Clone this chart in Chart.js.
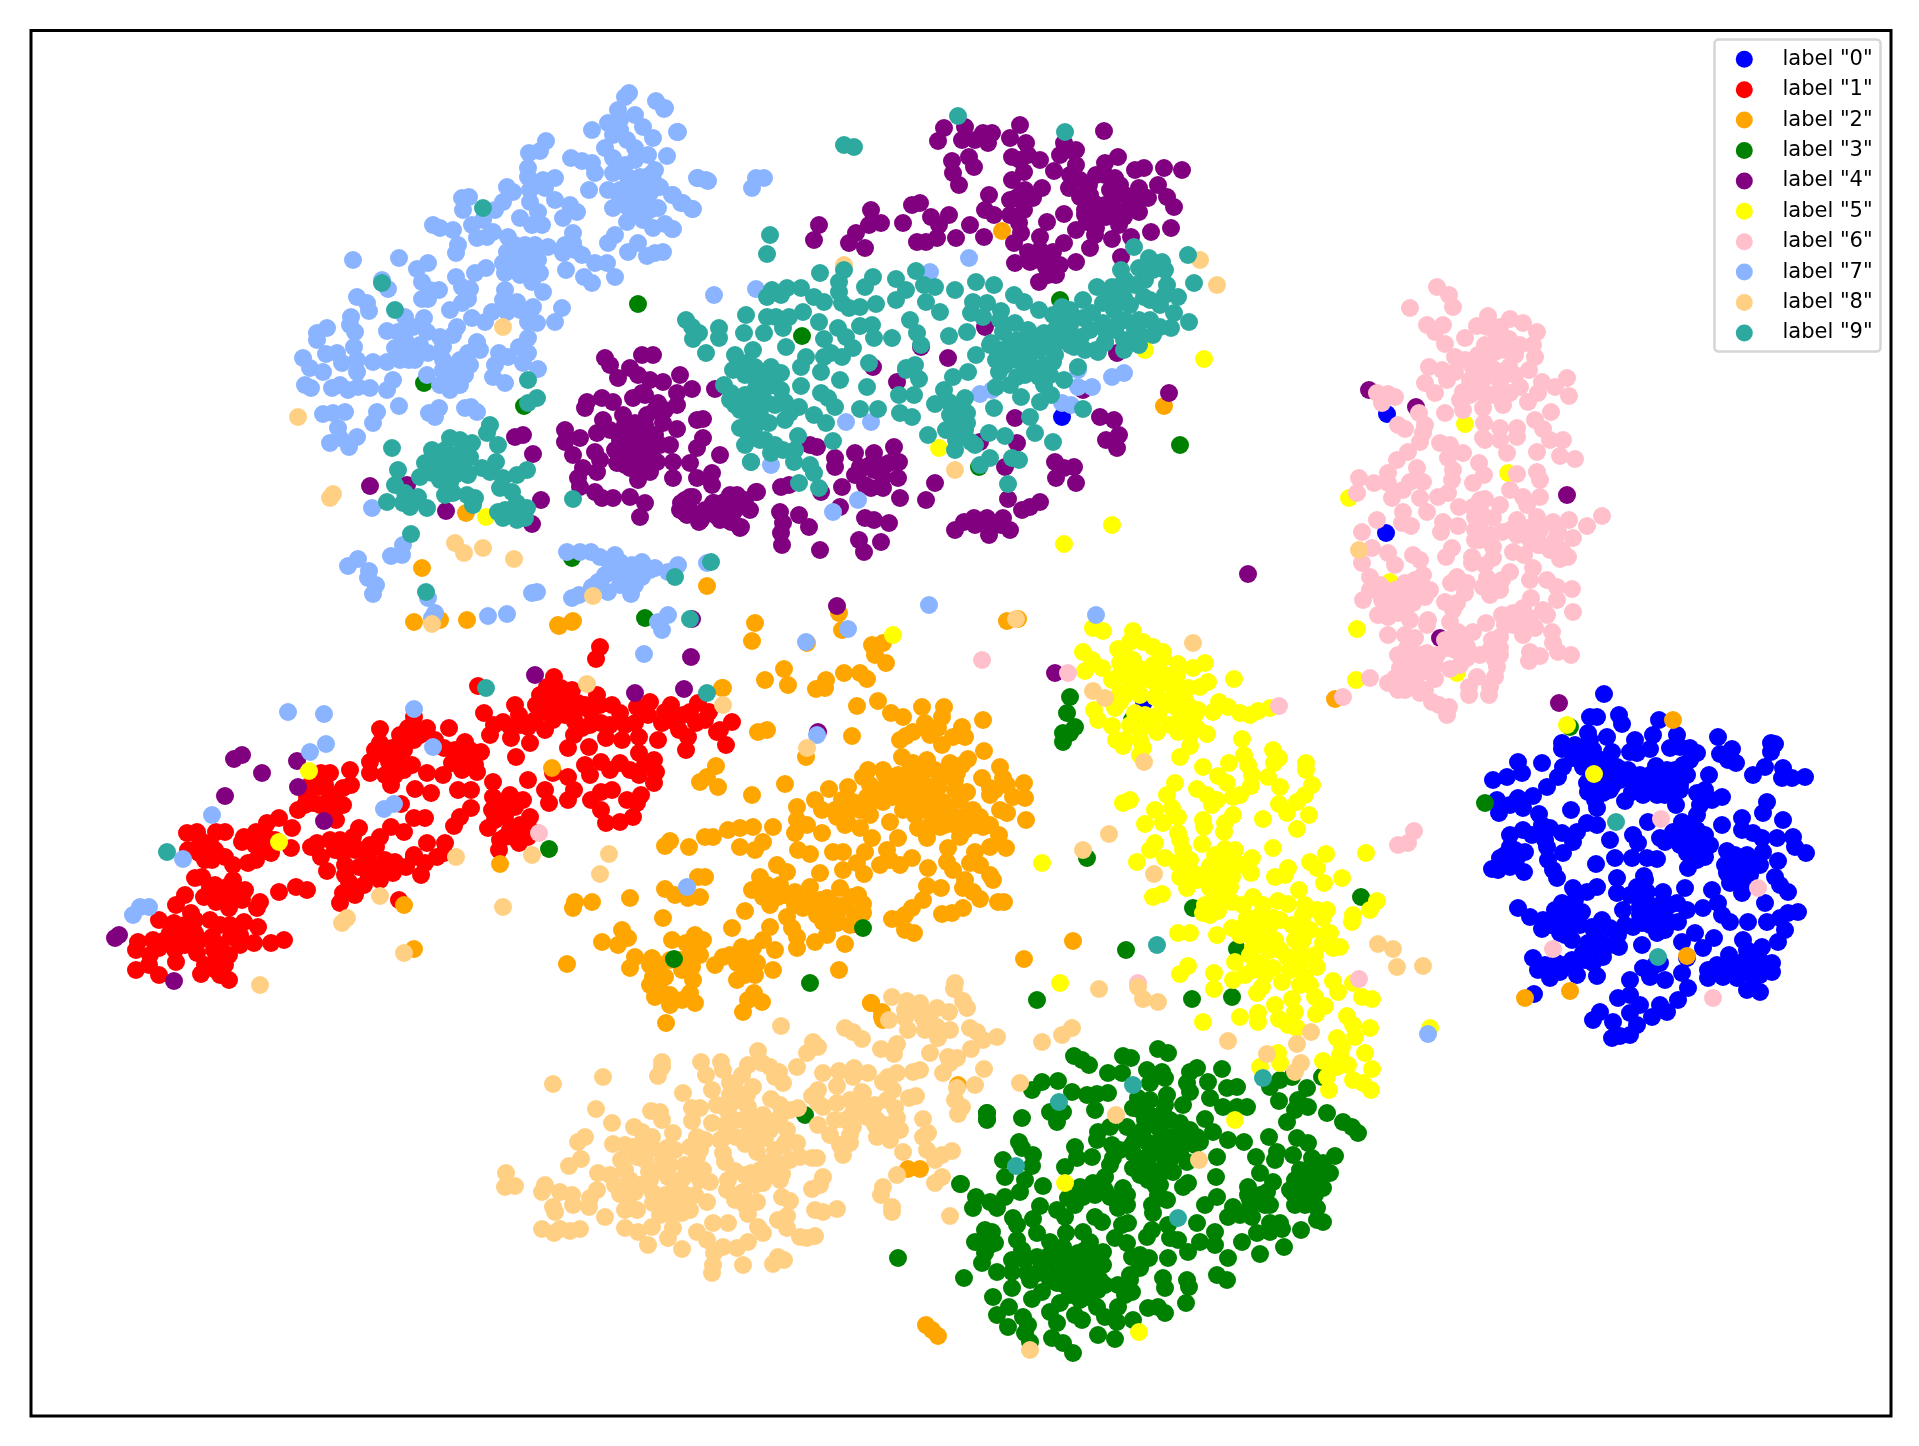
<!DOCTYPE html>
<html>
<head>
<meta charset="utf-8">
<title>t-SNE scatter</title>
<script src="https://cdn.jsdelivr.net/npm/chart.js@4"></script>
<style>
  html, body { margin: 0; padding: 0; background: #fff; }
  canvas { display: block; }
</style>
</head>
<body>
<canvas id="myChart" width="1919" height="1446"></canvas>
<script>
// points, one list per label
const label0 = [[1604,694],[1619,715],[1622,724],[1590,717],[1597,717],[1588,733],[1659,720],[1653,735],[1677,735],[1718,737],[1771,743],[1775,744],[1771,752],[1562,743],[1562,749],[1607,737],[1635,740],[1630,752],[1637,753],[1650,749],[1670,748],[1680,747],[1690,748],[1697,753],[1732,749],[1720,754],[1728,760],[1736,763],[1518,762],[1542,763],[1522,773],[1507,777],[1493,780],[1765,767],[1753,775],[1783,768],[1782,778],[1792,778],[1805,777],[1583,753],[1593,750],[1612,752],[1573,758],[1563,767],[1558,777],[1547,787],[1583,767],[1603,760],[1617,767],[1628,770],[1610,777],[1620,780],[1587,783],[1600,782],[1588,792],[1603,793],[1613,785],[1656,766],[1667,770],[1683,765],[1687,775],[1677,780],[1663,783],[1650,785],[1637,785],[1632,792],[1625,801],[1643,795],[1657,795],[1672,793],[1680,790],[1676,805],[1709,775],[1705,790],[1697,793],[1722,797],[1712,800],[1700,805],[1697,815],[1497,800],[1499,813],[1510,805],[1518,798],[1523,808],[1533,796],[1571,810],[1597,808],[1539,814],[1587,823],[1597,825],[1648,822],[1767,802],[1763,813],[1722,825],[1742,818],[1783,820],[1742,830],[1753,833],[1762,838],[1777,838],[1793,837],[1795,847],[1806,853],[1682,822],[1673,832],[1687,833],[1705,835],[1697,830],[1660,838],[1665,842],[1690,847],[1700,843],[1687,853],[1697,860],[1705,857],[1688,868],[1542,825],[1550,828],[1523,830],[1510,835],[1532,835],[1562,833],[1577,832],[1573,842],[1510,847],[1525,852],[1517,858],[1500,858],[1510,867],[1492,869],[1498,870],[1524,872],[1547,847],[1563,853],[1548,860],[1553,870],[1557,878],[1610,840],[1633,835],[1638,843],[1615,858],[1632,858],[1647,858],[1657,859],[1596,864],[1727,851],[1732,862],[1747,855],[1763,852],[1778,861],[1753,867],[1727,873],[1737,870],[1775,877],[1743,883],[1730,883],[1742,893],[1788,892],[1780,885],[1765,903],[1617,878],[1644,876],[1617,893],[1637,887],[1647,892],[1663,892],[1685,888],[1712,890],[1573,888],[1597,887],[1587,892],[1575,900],[1562,903],[1518,908],[1530,917],[1543,920],[1542,929],[1557,920],[1573,913],[1582,912],[1560,933],[1572,940],[1567,927],[1602,920],[1592,927],[1610,928],[1618,935],[1619,947],[1588,943],[1602,943],[1603,957],[1583,953],[1593,963],[1572,960],[1557,963],[1533,958],[1538,970],[1550,978],[1577,975],[1597,976],[1560,972],[1623,910],[1640,907],[1633,927],[1642,923],[1657,910],[1657,933],[1667,920],[1678,922],[1677,903],[1687,910],[1655,918],[1703,908],[1718,903],[1722,915],[1730,922],[1642,945],[1682,942],[1695,933],[1714,938],[1703,948],[1687,958],[1748,922],[1767,922],[1780,918],[1798,912],[1788,913],[1785,930],[1778,942],[1743,940],[1762,947],[1729,955],[1747,950],[1772,963],[1772,972],[1753,960],[1747,968],[1730,968],[1717,965],[1708,970],[1708,978],[1723,977],[1737,978],[1747,990],[1760,992],[1753,977],[1660,963],[1643,968],[1650,977],[1665,980],[1682,973],[1688,988],[1678,1000],[1630,980],[1534,994],[1618,998],[1630,995],[1640,1005],[1660,1005],[1667,1012],[1652,1017],[1630,1013],[1600,1012],[1593,1020],[1613,1022],[1637,1025],[1630,1035],[1620,1036],[1612,1038],[1387,414],[1386,533],[1144,702],[1062,417],[1590,760],[1600,770],[1612,765],[1595,783],[1610,790],[1622,770],[1640,775],[1650,775],[1665,780],[1675,770],[1632,780],[1645,790],[1660,790],[1690,760],[1680,785],[1665,795],[1680,830],[1690,825],[1700,840],[1710,845],[1680,845],[1695,850],[1735,855],[1745,865],[1755,860],[1735,880],[1750,875],[1740,875],[1725,865],[1760,865],[1555,910],[1565,915],[1575,920],[1550,925],[1565,935],[1580,925],[1590,945],[1600,950],[1585,960],[1575,965],[1610,945],[1595,935],[1565,965],[1545,965],[1630,895],[1640,895],[1650,905],[1660,905],[1670,905],[1650,925],[1665,930],[1625,925],[1640,915],[1645,880],[1750,955],[1760,960],[1745,960],[1760,975],[1765,965],[1735,965],[1725,968],[1545,840],[1515,850],[1505,855],[1590,740],[1575,745],[1595,800],[1500,865],[1655,965]];
const label1 = [[600,647],[596,659],[478,686],[554,677],[547,687],[561,688],[572,690],[597,695],[578,703],[547,702],[557,710],[536,705],[553,720],[515,705],[519,715],[528,727],[511,728],[494,725],[490,735],[511,738],[530,743],[484,713],[516,757],[591,712],[612,705],[620,713],[601,723],[582,728],[574,735],[606,738],[589,747],[568,748],[637,707],[650,702],[635,723],[639,737],[622,740],[658,740],[671,705],[683,715],[662,723],[679,730],[698,703],[709,712],[696,723],[732,722],[717,732],[726,745],[686,750],[688,737],[639,753],[654,760],[620,763],[601,762],[585,765],[568,777],[553,773],[545,790],[549,803],[528,780],[574,790],[568,800],[591,800],[601,792],[612,790],[601,810],[606,823],[620,822],[633,817],[637,803],[627,800],[641,795],[654,783],[639,775],[656,772],[493,782],[493,797],[492,810],[488,828],[505,817],[523,800],[515,807],[530,817],[513,828],[528,837],[519,843],[499,850],[505,837],[471,808],[460,817],[454,826],[427,843],[445,843],[437,857],[414,855],[425,863],[421,875],[444,853],[414,727],[408,728],[427,728],[414,717],[449,728],[380,729],[380,743],[404,750],[414,740],[397,760],[444,748],[465,742],[481,752],[467,760],[452,763],[477,772],[443,775],[427,773],[462,770],[370,762],[370,773],[389,762],[385,775],[404,770],[391,785],[350,770],[415,789],[431,793],[458,790],[471,790],[401,804],[414,818],[425,818],[321,773],[330,773],[319,787],[351,785],[343,788],[307,797],[330,797],[298,810],[313,803],[343,805],[336,820],[359,828],[353,837],[391,827],[404,832],[380,837],[376,847],[317,843],[311,847],[330,840],[343,853],[321,857],[355,850],[368,857],[380,867],[359,867],[327,871],[393,873],[406,867],[414,857],[380,880],[368,873],[349,882],[364,885],[343,893],[355,895],[340,903],[279,818],[292,828],[267,823],[256,832],[244,837],[242,842],[263,847],[271,853],[256,860],[248,863],[291,848],[187,833],[197,832],[225,832],[216,832],[210,843],[188,850],[199,853],[212,860],[225,857],[233,865],[202,877],[195,878],[210,888],[233,880],[227,887],[235,893],[279,892],[296,887],[307,890],[185,895],[176,905],[204,897],[216,902],[229,908],[242,900],[260,902],[257,908],[191,913],[159,920],[174,923],[210,920],[244,922],[258,927],[180,935],[170,933],[195,933],[212,937],[231,937],[254,943],[271,943],[284,940],[138,942],[153,940],[136,950],[159,948],[176,962],[197,953],[214,950],[229,955],[216,962],[136,970],[149,965],[159,975],[201,974],[216,970],[229,980],[399,900],[854,924],[400,735],[392,748],[385,755],[420,735],[435,740],[375,750],[395,775],[412,765],[470,750],[455,750],[475,765],[540,695],[555,695],[565,700],[535,720],[548,712],[565,715],[545,730],[520,725],[503,722],[575,712],[585,705],[590,725],[575,722],[600,705],[610,725],[625,725],[648,715],[665,712],[675,722],[690,712],[705,720],[720,730],[610,770],[630,770],[645,765],[590,775],[500,805],[510,795],[495,820],[510,830],[520,825],[500,840],[515,838],[530,830],[310,785],[325,785],[335,795],[320,805],[305,805],[330,810],[340,840],[350,848],[360,850],[345,865],[370,845],[365,865],[385,860],[395,862],[375,870],[345,875],[335,850],[200,840],[215,850],[205,860],[265,835],[255,845],[275,840],[215,885],[222,895],[245,890],[175,925],[185,925],[195,920],[220,925],[230,925],[200,940],[220,945],[240,945],[185,945],[165,940],[150,955],[175,950],[225,965],[240,935],[220,975],[205,965]];
const label2 = [[414,622],[440,620],[467,620],[559,626],[572,622],[422,568],[707,586],[466,513],[413,347],[1002,231],[1164,406],[1073,941],[1335,699],[1673,720],[1687,956],[1570,991],[1525,998],[552,768],[500,864],[404,905],[414,949],[722,688],[871,1003],[882,1017],[958,1085],[908,1169],[920,1169],[926,1325],[932,1330],[938,1336],[1024,959],[558,625],[573,621],[755,623],[752,641],[839,613],[842,630],[807,643],[1007,621],[1018,619],[872,645],[883,643],[875,655],[886,663],[784,669],[765,680],[788,685],[826,680],[816,689],[825,688],[844,673],[860,673],[867,679],[723,688],[878,701],[857,706],[891,713],[903,717],[922,707],[944,707],[942,717],[983,720],[925,723],[913,732],[906,736],[938,728],[962,727],[953,737],[965,737],[942,745],[758,732],[767,730],[852,736],[806,757],[984,751],[902,757],[927,760],[968,759],[913,763],[950,763],[962,765],[716,766],[868,770],[883,770],[898,775],[923,772],[1000,767],[957,773],[943,777],[707,777],[700,782],[718,787],[785,784],[982,778],[1003,778],[863,777],[893,777],[917,782],[1024,783],[829,789],[848,787],[938,788],[967,792],[990,788],[1007,785],[752,795],[867,797],[893,797],[908,793],[927,793],[955,790],[1025,798],[842,800],[853,802],[883,802],[913,802],[943,802],[1013,797],[868,810],[903,810],[927,810],[822,810],[797,807],[950,812],[973,810],[1007,813],[837,817],[890,822],[940,818],[963,817],[980,817],[797,820],[847,822],[1026,820],[918,828],[773,827],[728,830],[753,827],[740,828],[807,825],[940,827],[983,827],[705,837],[713,837],[822,833],[860,828],[927,838],[960,837],[795,833],[999,835],[670,841],[665,846],[689,847],[763,842],[740,847],[872,838],[898,838],[948,848],[798,850],[755,850],[990,847],[1006,848],[833,852],[843,852],[865,852],[887,850],[810,854],[912,858],[975,852],[900,865],[777,865],[928,868],[947,862],[970,863],[857,863],[980,865],[787,872],[760,877],[820,873],[843,870],[953,870],[864,874],[705,877],[698,877],[665,889],[990,875],[993,880],[965,880],[767,885],[752,890],[795,892],[810,887],[840,888],[927,886],[941,888],[963,888],[675,895],[700,897],[688,898],[763,897],[778,897],[827,898],[852,897],[973,892],[575,902],[592,902],[630,898],[810,900],[858,895],[923,900],[980,899],[998,902],[1004,902],[573,908],[745,911],[863,904],[912,908],[963,908],[952,913],[942,914],[787,917],[803,908],[817,915],[837,915],[863,913],[905,915],[663,918],[892,919],[900,919],[823,922],[792,928],[837,923],[732,928],[770,927],[905,930],[914,933],[622,930],[797,937],[827,935],[628,938],[695,935],[672,940],[686,943],[703,940],[602,942],[618,945],[815,942],[845,944],[763,940],[742,947],[797,948],[775,950],[753,948],[635,957],[652,958],[723,957],[697,948],[567,964],[630,968],[692,967],[715,965],[737,963],[757,963],[773,970],[653,977],[839,970],[682,970],[665,977],[693,980],[737,980],[755,975],[655,997],[690,993],[670,995],[682,1000],[754,993],[695,1003],[670,1005],[762,1002],[748,1000],[743,1012],[666,1023],[871,1003],[882,1012],[883,1020],[885,775],[905,785],[925,785],[940,780],[955,780],[870,785],[880,790],[895,785],[915,790],[930,800],[900,795],[960,800],[925,770],[935,770],[910,770],[890,795],[905,805],[915,815],[935,810],[945,825],[955,825],[930,825],[965,820],[965,830],[975,825],[990,795],[995,790],[990,825],[1000,810],[850,810],[860,810],[870,800],[815,800],[835,810],[845,825],[870,815],[845,905],[855,915],[850,925],[835,905],[820,900],[830,910],[760,890],[770,890],[780,885],[770,905],[785,895],[795,905],[730,955],[740,960],[750,960],[745,975],[650,965],[660,965],[670,960],[680,960],[650,985],[660,990],[700,955],[690,955],[900,740],[930,735],[880,865],[890,860]];
const label3 = [[638,304],[424,383],[524,406],[802,336],[1060,300],[1180,445],[979,467],[645,618],[572,558],[549,849],[674,959],[863,928],[810,983],[1037,1000],[1070,697],[1067,713],[1075,727],[1063,733],[1063,742],[1070,733],[1132,720],[1087,858],[1193,908],[1361,897],[1126,950],[1237,949],[1192,999],[1232,997],[1322,1077],[960,1184],[898,1258],[987,1113],[987,1120],[805,1115],[1485,803],[1570,727],[1074,1056],[1082,1060],[1089,1065],[1123,1056],[1131,1058],[1158,1049],[1168,1053],[1147,1070],[1162,1072],[1108,1073],[1122,1073],[1197,1068],[1222,1069],[1190,1072],[1042,1082],[1058,1081],[1032,1090],[1072,1092],[1087,1095],[1097,1094],[1108,1093],[1150,1083],[1165,1078],[1187,1083],[1208,1082],[1227,1088],[1237,1087],[1270,1087],[1280,1080],[1292,1077],[1307,1088],[1279,1101],[1298,1100],[1308,1107],[1327,1113],[1287,1122],[1343,1122],[1352,1127],[1358,1133],[1295,1110],[1138,1098],[1150,1100],[1167,1095],[1163,1113],[1133,1108],[1157,1117],[1183,1105],[1190,1092],[1210,1098],[1223,1107],[1237,1107],[1247,1107],[1095,1110],[1050,1112],[1063,1112],[1057,1122],[987,1113],[987,1119],[1022,1118],[1180,1123],[1205,1119],[1213,1132],[1098,1132],[1110,1127],[1127,1127],[1143,1130],[1160,1130],[1173,1137],[1197,1137],[1097,1140],[1112,1145],[1132,1145],[1147,1142],[1162,1143],[1183,1143],[1200,1142],[1228,1140],[1244,1142],[1019,1142],[1022,1148],[1269,1137],[1297,1138],[1308,1143],[1075,1147],[1033,1155],[1003,1160],[1077,1158],[1092,1157],[1113,1158],[1133,1153],[1147,1157],[1163,1153],[1180,1153],[1217,1157],[1256,1157],[1277,1152],[1275,1160],[1293,1155],[1312,1158],[1335,1156],[1323,1163],[1032,1166],[1065,1167],[1133,1168],[1152,1170],[1173,1172],[1187,1162],[1260,1173],[1310,1168],[1330,1173],[1005,1177],[1216,1177],[1025,1180],[1148,1180],[1273,1182],[1295,1180],[1315,1178],[961,1184],[1043,1186],[1080,1187],[1105,1177],[1093,1183],[1123,1188],[1160,1185],[1188,1183],[1183,1187],[1248,1187],[1323,1188],[1020,1192],[1005,1197],[976,1197],[990,1202],[1068,1198],[1083,1197],[1110,1197],[1127,1195],[1158,1195],[1248,1195],[1267,1192],[1293,1193],[1305,1193],[973,1208],[997,1208],[1040,1206],[1057,1210],[1118,1208],[1127,1205],[1152,1205],[1167,1200],[1205,1205],[1217,1197],[1233,1207],[1250,1207],[1270,1205],[1295,1205],[1317,1208],[1013,1218],[1033,1219],[1065,1217],[1095,1217],[1153,1213],[1228,1217],[1252,1217],[1317,1220],[1323,1222],[1102,1222],[1122,1225],[1128,1223],[1197,1223],[1017,1225],[1270,1223],[1280,1223],[1301,1230],[992,1232],[1037,1233],[1066,1233],[1083,1232],[1152,1230],[1168,1225],[1215,1232],[1257,1233],[1270,1232],[1282,1229],[975,1242],[985,1237],[995,1243],[1017,1240],[1050,1242],[1115,1238],[1147,1237],[1170,1238],[1200,1242],[1242,1242],[1090,1242],[1127,1243],[1178,1240],[1215,1245],[1284,1247],[1063,1247],[1022,1250],[1188,1252],[1103,1252],[1078,1253],[985,1253],[1132,1257],[1149,1258],[1168,1258],[1228,1258],[1260,1254],[1037,1257],[1047,1257],[1012,1260],[982,1263],[1070,1263],[1103,1265],[1090,1265],[1140,1268],[997,1272],[1012,1272],[1027,1273],[1038,1273],[1058,1270],[1077,1272],[1093,1273],[1130,1275],[1217,1275],[1227,1280],[1163,1278],[1187,1280],[964,1278],[1057,1283],[1077,1283],[1093,1283],[1118,1285],[1165,1288],[1189,1287],[1012,1288],[1042,1292],[1132,1292],[1098,1290],[1080,1293],[993,1297],[1032,1299],[1060,1303],[1088,1297],[1186,1303],[1009,1307],[1097,1307],[1118,1307],[1148,1308],[1158,1307],[1165,1313],[1050,1312],[997,1315],[1023,1317],[1075,1315],[1082,1320],[1105,1317],[1117,1322],[1133,1320],[1028,1325],[1057,1323],[1008,1327],[1025,1333],[1098,1335],[1115,1339],[1052,1338],[1063,1343],[1030,1342],[1073,1353],[1323,1076],[1140,1110],[1150,1115],[1165,1105],[1155,1125],[1145,1120],[1170,1120],[1160,1140],[1175,1150],[1165,1160],[1150,1155],[1180,1135],[1190,1130],[1195,1145],[1170,1160],[1140,1160],[1135,1140],[1150,1145],[1140,1175],[1155,1185],[1160,1175],[1120,1150],[1110,1165],[1125,1195],[1105,1190],[1095,1195],[1075,1205],[1060,1250],[1070,1255],[1080,1260],[1055,1265],[1065,1275],[1085,1275],[1100,1280],[1075,1285],[1070,1295],[1090,1255],[1105,1285],[1050,1280],[1060,1260],[1080,1300],[1100,1260],[1065,1285],[1085,1250],[1310,1180],[1300,1185],[1320,1175],[1305,1205],[1300,1170],[1290,1190],[1315,1195],[1250,1200],[1260,1195],[1240,1215],[1265,1205],[990,1245],[985,1230],[1125,1295],[1130,1280],[1140,1255],[1040,1270],[1030,1280],[1025,1260]];
const label4 = [[242,755],[234,759],[262,773],[297,761],[298,787],[225,796],[324,821],[535,675],[635,693],[684,689],[691,657],[119,935],[115,938],[174,981],[837,606],[1055,673],[818,732],[1169,393],[1440,638],[1369,390],[1416,407],[1567,495],[1559,703],[1248,574],[692,619],[605,358],[610,365],[642,355],[653,355],[630,368],[618,378],[638,375],[680,375],[650,380],[663,382],[692,389],[715,389],[642,393],[633,398],[677,393],[602,398],[587,402],[585,408],[613,402],[658,403],[677,405],[623,415],[647,415],[603,420],[635,423],[663,423],[677,429],[697,420],[703,419],[565,430],[565,442],[580,438],[597,433],[627,433],[647,432],[627,445],[647,445],[670,445],[703,438],[697,448],[573,455],[595,452],[630,457],[720,455],[600,460],[617,463],[657,462],[673,462],[690,463],[583,468],[630,468],[650,472],[578,478],[597,472],[638,480],[673,478],[697,478],[712,473],[712,485],[580,487],[595,492],[602,498],[613,498],[630,497],[645,503],[640,517],[685,500],[693,497],[685,513],[701,520],[713,503],[725,507],[738,497],[750,510],[732,520],[741,527],[757,492],[515,437],[523,435],[533,454],[370,486],[407,485],[541,500],[446,511],[532,524],[944,128],[938,141],[965,127],[962,140],[983,133],[992,133],[988,143],[1010,138],[1020,125],[1026,143],[1104,131],[1064,143],[1076,150],[1060,155],[1012,157],[1028,155],[1040,160],[969,157],[974,167],[952,161],[953,173],[959,185],[1024,172],[1054,171],[1012,180],[1076,165],[1105,163],[1118,157],[1096,175],[1135,170],[1144,168],[1164,168],[1182,170],[1115,178],[1089,185],[1069,188],[1042,188],[1033,198],[1016,198],[989,195],[1080,197],[1094,203],[1115,193],[1139,188],[1158,185],[1135,202],[1148,198],[1167,197],[1174,207],[985,210],[994,215],[1024,210],[1064,214],[1114,208],[1139,212],[1019,223],[1047,222],[1087,222],[1106,217],[1124,217],[1119,225],[1076,230],[1040,237],[1021,233],[1096,228],[1112,239],[1131,237],[1151,232],[1171,228],[1014,243],[1064,243],[1090,248],[1028,252],[1053,252],[1076,262],[1121,257],[1015,263],[1039,260],[1046,267],[1056,275],[1039,282],[871,210],[819,225],[814,240],[881,223],[869,225],[856,233],[849,243],[865,248],[912,205],[920,203],[903,223],[931,217],[949,215],[939,225],[970,225],[956,238],[984,237],[937,238],[917,242],[926,242],[681,503],[690,497],[699,522],[687,515],[714,503],[724,502],[737,495],[756,492],[746,507],[740,528],[731,522],[719,513],[780,512],[799,515],[783,523],[781,533],[782,545],[809,527],[820,550],[840,507],[821,492],[789,485],[781,487],[865,518],[874,520],[889,523],[859,540],[881,542],[864,552],[855,453],[835,458],[835,467],[810,445],[817,447],[874,453],[894,447],[860,467],[899,462],[889,463],[874,470],[855,475],[883,477],[898,478],[842,487],[871,488],[883,488],[900,498],[935,483],[926,500],[1008,499],[1040,502],[1030,507],[1022,510],[1003,518],[987,518],[974,518],[964,522],[955,530],[989,535],[1010,530],[1001,525],[1055,462],[1056,478],[1074,467],[1076,483],[1064,468],[1100,417],[1114,420],[1119,435],[1106,440],[1117,448],[1015,418],[1017,443],[1005,467],[980,442],[948,358],[897,382],[873,367],[921,347],[985,327],[1117,353],[1083,390],[625,425],[635,435],[645,425],[655,435],[660,445],[640,440],[620,440],[635,455],[650,455],[640,465],[655,410],[665,410],[625,465],[615,450],[610,430],[645,395],[680,510],[690,510],[705,510],[720,520],[735,510],[745,500],[730,495],[715,515],[1040,250],[1050,262],[1030,262],[1060,265],[1048,275],[1110,190],[1125,195],[1105,205],[1085,210],[1100,215],[1130,205],[1090,195],[1120,185],[1105,175],[1080,180],[1095,235],[1085,215],[1020,195],[1010,215],[1010,200],[1025,190],[860,470],[870,465],[885,465],[865,485],[990,525],[975,525],[1020,160],[1070,150],[1070,175],[975,140]];
const label5 = [[309,771],[279,842],[486,517],[893,635],[1042,863],[1060,983],[939,448],[1145,350],[1204,359],[1112,525],[1064,544],[1465,424],[1349,498],[1357,629],[1356,680],[1457,673],[1390,582],[1508,473],[1594,774],[1567,725],[1065,1183],[1235,1120],[1139,1332],[1430,1028],[1093,628],[1103,631],[1133,631],[1083,652],[1092,660],[1085,671],[1102,668],[1118,649],[1130,642],[1143,642],[1153,647],[1163,652],[1163,658],[1120,663],[1133,660],[1153,665],[1178,664],[1193,668],[1205,663],[1177,675],[1112,680],[1127,677],[1140,680],[1208,682],[1234,679],[1158,686],[1173,687],[1188,688],[1200,687],[1120,693],[1155,697],[1172,700],[1120,702],[1219,702],[1228,707],[1115,708],[1094,710],[1135,713],[1158,715],[1177,708],[1190,707],[1198,710],[1213,712],[1240,713],[1250,715],[1258,711],[1270,708],[1098,720],[1112,726],[1148,725],[1188,720],[1178,732],[1197,728],[1157,732],[1207,734],[1140,730],[1125,740],[1116,740],[1140,740],[1190,746],[1123,746],[1143,748],[1140,755],[1242,739],[1273,750],[1244,755],[1180,757],[1229,763],[1279,758],[1274,763],[1248,765],[1203,767],[1306,763],[1306,770],[1252,775],[1218,776],[1268,777],[1175,783],[1227,783],[1251,786],[1280,787],[1312,785],[1197,789],[1207,795],[1217,800],[1233,797],[1240,795],[1167,795],[1305,795],[1297,802],[1130,800],[1123,803],[1212,805],[1279,804],[1155,810],[1172,808],[1287,813],[1233,815],[1309,815],[1178,817],[1203,820],[1263,819],[1225,823],[1145,824],[1163,823],[1204,827],[1224,832],[1297,829],[1178,833],[1155,843],[1202,844],[1273,848],[1150,850],[1225,849],[1183,850],[1326,854],[1366,853],[1165,858],[1137,862],[1215,855],[1252,858],[1310,862],[1177,863],[1210,866],[1243,865],[1288,868],[1317,868],[1190,870],[1223,867],[1251,873],[1285,875],[1275,877],[1342,878],[1180,877],[1197,880],[1232,877],[1324,883],[1187,888],[1230,887],[1210,888],[1299,890],[1162,894],[1153,897],[1253,897],[1217,895],[1377,901],[1278,901],[1232,902],[1205,905],[1288,904],[1305,905],[1243,905],[1263,905],[1317,910],[1327,910],[1370,910],[1218,911],[1353,915],[1203,913],[1303,915],[1247,918],[1258,917],[1273,918],[1323,918],[1352,922],[1292,925],[1303,925],[1232,928],[1178,933],[1190,933],[1217,935],[1240,935],[1260,932],[1310,930],[1330,933],[1275,940],[1303,940],[1253,947],[1263,945],[1323,943],[1340,947],[1287,957],[1315,955],[1333,948],[1235,962],[1262,963],[1300,963],[1188,966],[1317,967],[1273,968],[1180,974],[1214,973],[1253,970],[1305,977],[1282,982],[1233,980],[1333,981],[1353,983],[1262,987],[1214,989],[1338,992],[1257,993],[1315,997],[1292,999],[1362,997],[1372,999],[1275,1005],[1325,1006],[1295,1012],[1258,1013],[1240,1017],[1316,1014],[1347,1016],[1203,1022],[1279,1019],[1258,1022],[1353,1025],[1288,1025],[1370,1028],[1297,1028],[1337,1038],[1355,1037],[1342,1047],[1365,1053],[1278,1053],[1280,1063],[1260,1067],[1323,1061],[1337,1067],[1348,1065],[1372,1069],[1327,1077],[1353,1080],[1363,1083],[1371,1090],[1329,1090],[1125,655],[1135,665],[1120,675],[1130,690],[1145,670],[1140,695],[1150,680],[1125,695],[1165,675],[1175,695],[1185,700],[1180,720],[1195,715],[1165,705],[1190,735],[1160,700],[1170,725],[1130,725],[1145,715],[1180,840],[1190,860],[1200,875],[1210,875],[1220,880],[1225,875],[1230,865],[1215,865],[1235,850],[1220,900],[1210,915],[1245,925],[1260,925],[1270,925],[1280,920],[1250,935],[1270,950],[1280,950],[1295,940],[1300,950],[1290,970],[1310,985],[1300,985],[1245,975],[1250,955],[1265,975],[1325,935],[1340,1055]];
const label6 = [[539,833],[982,660],[1068,673],[1279,706],[1414,831],[1398,845],[1408,843],[1138,983],[1359,979],[1661,819],[1758,888],[1553,949],[1713,998],[1437,287],[1449,295],[1410,308],[1453,307],[1427,325],[1443,325],[1435,332],[1488,316],[1477,326],[1510,319],[1523,323],[1487,327],[1500,327],[1537,332],[1465,338],[1445,344],[1497,337],[1509,339],[1533,345],[1455,357],[1478,355],[1495,352],[1535,357],[1429,367],[1442,370],[1455,372],[1473,368],[1490,367],[1509,367],[1529,370],[1567,378],[1425,383],[1447,380],[1483,380],[1500,382],[1542,382],[1520,387],[1555,387],[1435,393],[1463,392],[1480,392],[1510,393],[1538,393],[1569,396],[1377,393],[1388,394],[1395,397],[1382,403],[1528,402],[1503,405],[1463,410],[1445,413],[1483,408],[1551,412],[1419,413],[1535,420],[1484,423],[1398,425],[1405,429],[1425,425],[1500,428],[1517,428],[1543,429],[1423,433],[1483,438],[1500,440],[1517,437],[1550,440],[1563,440],[1420,442],[1440,443],[1450,445],[1507,453],[1537,452],[1408,452],[1463,453],[1448,458],[1560,456],[1575,459],[1397,460],[1479,463],[1537,472],[1388,473],[1417,468],[1453,470],[1517,474],[1484,475],[1359,478],[1540,480],[1374,483],[1388,483],[1410,482],[1423,482],[1452,480],[1473,483],[1357,493],[1403,490],[1510,490],[1540,497],[1420,498],[1438,497],[1448,493],[1392,498],[1523,497],[1485,499],[1500,505],[1459,507],[1473,507],[1527,505],[1403,512],[1427,512],[1475,517],[1537,517],[1493,518],[1602,516],[1443,522],[1517,520],[1553,522],[1569,520],[1377,520],[1402,523],[1411,526],[1458,526],[1587,526],[1479,525],[1528,528],[1362,532],[1441,532],[1502,532],[1558,532],[1573,538],[1517,535],[1475,540],[1537,537],[1452,548],[1493,547],[1550,550],[1562,550],[1372,548],[1388,553],[1538,545],[1513,552],[1413,555],[1446,557],[1568,557],[1524,555],[1472,557],[1560,559],[1493,558],[1420,560],[1362,563],[1395,565],[1472,563],[1485,565],[1533,568],[1510,572],[1370,577],[1457,577],[1423,575],[1547,580],[1487,578],[1451,583],[1530,580],[1502,580],[1405,583],[1467,583],[1557,587],[1572,589],[1370,590],[1483,587],[1500,590],[1395,590],[1417,592],[1465,593],[1490,595],[1363,600],[1425,597],[1531,598],[1557,600],[1382,600],[1400,600],[1413,603],[1445,602],[1457,603],[1523,608],[1543,610],[1573,612],[1378,615],[1398,613],[1453,610],[1502,615],[1513,613],[1388,617],[1428,620],[1410,620],[1530,618],[1547,615],[1450,622],[1486,623],[1427,625],[1388,635],[1513,625],[1535,628],[1552,632],[1458,632],[1473,632],[1523,635],[1405,635],[1415,638],[1500,637],[1452,638],[1492,640],[1553,643],[1407,648],[1467,647],[1500,648],[1447,648],[1558,652],[1571,655],[1427,653],[1480,655],[1530,652],[1540,656],[1398,655],[1437,655],[1495,660],[1529,661],[1410,662],[1467,658],[1400,668],[1425,667],[1460,665],[1450,669],[1497,667],[1370,678],[1477,677],[1395,678],[1420,673],[1495,677],[1435,679],[1388,683],[1398,690],[1415,685],[1469,687],[1490,687],[1420,693],[1469,695],[1489,695],[1432,702],[1439,705],[1449,707],[1447,715],[1343,697],[1485,345],[1490,355],[1505,350],[1490,395],[1495,370],[1505,375],[1470,380],[1480,370],[1520,345],[1515,355],[1515,375],[1465,360],[1470,395],[1460,400],[1495,395],[1400,590],[1410,595],[1395,600],[1405,610],[1415,580],[1385,590],[1380,585],[1420,585],[1430,590],[1388,607],[1410,660],[1420,655],[1435,665],[1415,675],[1405,680],[1425,690],[1405,690],[1410,650],[1445,640],[1455,650],[1460,640],[1500,655],[1490,650],[1505,625],[1520,620],[1485,440],[1475,530],[1480,540],[1490,535],[1480,510],[1480,500],[1495,585],[1510,530],[1520,530],[1530,540],[1540,530],[1540,545],[1555,540]];
const label7 = [[629,93],[625,97],[656,101],[664,109],[618,110],[635,115],[677,132],[592,130],[608,123],[620,120],[643,127],[653,138],[613,135],[627,140],[605,148],[635,148],[648,155],[667,156],[613,158],[546,141],[540,151],[529,153],[571,158],[582,161],[592,163],[595,173],[613,173],[628,177],[640,177],[655,170],[653,180],[528,168],[528,177],[543,180],[555,178],[697,178],[708,181],[589,190],[608,190],[660,187],[633,195],[620,198],[650,193],[673,195],[683,203],[693,209],[613,208],[658,208],[643,210],[627,222],[643,220],[653,228],[665,224],[673,229],[615,235],[608,243],[638,243],[628,252],[647,256],[663,252],[655,253],[507,187],[513,192],[503,202],[530,190],[545,188],[530,202],[538,212],[555,200],[570,205],[577,212],[563,218],[520,218],[532,225],[542,225],[462,198],[469,197],[463,210],[495,210],[433,225],[440,228],[453,230],[472,225],[483,220],[493,232],[477,238],[487,237],[508,237],[458,245],[456,253],[573,233],[573,243],[548,247],[563,253],[582,255],[595,263],[607,263],[566,270],[584,277],[592,283],[615,277],[507,252],[520,255],[530,253],[538,260],[503,263],[505,273],[540,273],[532,282],[543,292],[353,260],[399,258],[428,263],[417,269],[486,268],[475,273],[422,282],[456,277],[462,287],[470,289],[439,290],[430,290],[422,299],[428,299],[468,299],[462,303],[450,310],[505,290],[503,300],[517,302],[533,307],[562,308],[555,322],[492,312],[472,318],[485,322],[457,327],[453,335],[528,322],[537,323],[507,312],[382,280],[388,289],[357,297],[367,303],[369,311],[351,317],[350,325],[355,332],[405,317],[424,318],[387,331],[398,332],[413,327],[427,332],[440,337],[327,328],[317,333],[317,340],[354,347],[528,338],[519,347],[528,353],[477,342],[480,350],[468,353],[499,353],[508,357],[495,365],[523,363],[538,369],[443,347],[395,348],[410,350],[428,353],[303,358],[326,354],[337,353],[342,363],[357,360],[373,362],[387,362],[400,360],[409,360],[443,360],[460,360],[310,368],[323,372],[357,372],[427,375],[443,370],[463,368],[450,380],[453,383],[493,377],[505,383],[305,385],[311,388],[332,388],[340,385],[348,390],[358,387],[370,388],[387,390],[393,380],[323,414],[333,413],[345,412],[377,412],[373,423],[399,406],[429,413],[439,408],[435,417],[465,408],[477,412],[471,407],[338,428],[330,443],[340,438],[357,437],[349,447],[372,508],[665,108],[678,132],[698,178],[706,180],[756,178],[764,178],[752,188],[672,195],[681,203],[692,209],[672,229],[714,295],[756,289],[930,272],[969,258],[846,422],[871,422],[980,394],[1078,370],[1112,377],[1124,373],[1092,387],[1078,387],[1062,403],[1071,405],[771,465],[833,512],[858,500],[992,390],[348,566],[358,559],[369,571],[368,578],[376,585],[373,594],[391,556],[402,555],[403,545],[428,598],[435,613],[432,618],[488,616],[507,614],[532,593],[537,592],[572,598],[579,595],[593,595],[567,552],[580,552],[591,552],[600,557],[610,563],[620,562],[632,565],[642,562],[655,568],[668,572],[678,565],[613,572],[627,575],[642,577],[598,582],[592,587],[608,592],[631,594],[707,563],[668,615],[658,622],[662,630],[644,654],[288,712],[324,714],[326,744],[310,752],[414,709],[433,747],[394,804],[384,809],[212,815],[183,859],[140,907],[149,907],[133,915],[806,642],[848,629],[929,605],[817,735],[687,887],[1096,615],[1428,1034],[630,185],[640,190],[625,205],[640,200],[650,210],[630,210],[620,190],[650,175],[635,160],[625,165],[510,265],[520,265],[530,270],[515,245],[525,245],[535,245],[520,275],[445,375],[455,370],[465,375],[450,390],[460,385],[440,385],[470,365],[420,345],[405,340],[415,360],[620,570],[635,570],[650,570],[605,575],[620,585],[635,585],[615,555],[620,130],[575,250],[565,245],[510,307],[520,310]];
const label8 = [[955,983],[954,989],[892,997],[907,1001],[920,1003],[963,1001],[937,1008],[967,1008],[949,1012],[905,1018],[889,1020],[923,1018],[908,1030],[937,1027],[950,1030],[938,1038],[970,1028],[977,1032],[983,1040],[997,1037],[845,1028],[853,1032],[862,1039],[781,1026],[971,1049],[813,1042],[818,1047],[897,1044],[881,1049],[894,1054],[930,1053],[807,1053],[948,1057],[957,1058],[950,1063],[943,1073],[758,1051],[662,1062],[662,1067],[658,1076],[701,1062],[721,1062],[723,1070],[706,1075],[748,1065],[762,1063],[770,1067],[742,1075],[779,1072],[775,1077],[797,1067],[823,1073],[839,1071],[854,1068],[868,1073],[853,1077],[897,1073],[888,1077],[883,1082],[920,1070],[913,1072],[984,1069],[603,1077],[553,1084],[783,1083],[730,1083],[753,1087],[712,1090],[735,1088],[837,1086],[818,1090],[862,1092],[893,1090],[957,1088],[975,1085],[683,1093],[730,1095],[747,1095],[812,1096],[863,1093],[771,1099],[916,1096],[909,1098],[955,1100],[596,1109],[692,1108],[700,1108],[717,1105],[727,1110],[748,1107],[780,1105],[798,1108],[818,1103],[837,1103],[823,1107],[875,1105],[887,1100],[895,1108],[962,1107],[958,1114],[651,1111],[660,1112],[662,1120],[692,1121],[712,1123],[743,1120],[755,1119],[763,1115],[780,1117],[853,1113],[867,1117],[877,1120],[897,1118],[835,1120],[923,1119],[612,1123],[818,1125],[853,1127],[892,1125],[778,1123],[634,1127],[642,1132],[787,1130],[830,1135],[877,1137],[928,1133],[923,1137],[673,1133],[652,1137],[697,1137],[705,1140],[723,1138],[736,1137],[755,1138],[765,1138],[585,1137],[578,1142],[613,1144],[745,1144],[785,1143],[797,1143],[840,1145],[850,1143],[903,1152],[927,1150],[633,1147],[653,1148],[667,1148],[690,1147],[757,1152],[723,1153],[775,1150],[843,1155],[952,1151],[942,1155],[935,1160],[800,1157],[817,1158],[812,1158],[581,1159],[569,1166],[621,1160],[637,1157],[663,1160],[697,1157],[725,1162],[777,1163],[767,1163],[625,1170],[649,1172],[703,1170],[735,1171],[751,1173],[782,1174],[598,1173],[506,1173],[668,1177],[683,1178],[630,1180],[710,1182],[728,1180],[763,1183],[823,1177],[942,1177],[935,1183],[897,1175],[883,1187],[515,1186],[505,1187],[545,1185],[542,1192],[812,1189],[820,1185],[560,1192],[597,1190],[620,1194],[635,1192],[653,1193],[683,1193],[727,1190],[743,1192],[572,1195],[590,1198],[881,1195],[782,1197],[790,1201],[707,1202],[680,1200],[573,1205],[653,1203],[757,1202],[748,1202],[892,1207],[666,1207],[553,1207],[589,1207],[625,1210],[637,1210],[685,1208],[815,1210],[837,1209],[823,1212],[892,1212],[555,1212],[682,1213],[748,1214],[787,1216],[605,1217],[778,1220],[713,1223],[728,1223],[950,1216],[625,1228],[652,1227],[673,1228],[758,1227],[542,1229],[560,1229],[580,1229],[570,1231],[787,1228],[554,1233],[638,1232],[697,1232],[763,1233],[668,1238],[707,1240],[815,1236],[800,1237],[807,1238],[748,1242],[648,1245],[682,1249],[723,1247],[737,1248],[714,1253],[778,1257],[784,1260],[773,1264],[713,1265],[743,1265],[712,1273],[587,684],[723,705],[456,857],[532,855],[609,854],[600,874],[380,896],[503,907],[347,918],[342,923],[404,953],[260,985],[298,417],[503,327],[330,498],[333,494],[455,543],[464,553],[483,548],[514,559],[593,596],[432,624],[844,265],[1200,260],[1217,285],[955,470],[1016,619],[807,748],[1193,643],[1093,691],[1105,698],[1144,762],[1109,834],[1083,850],[1154,874],[1378,944],[1393,949],[1397,967],[1423,966],[1099,989],[1138,987],[1143,999],[1158,1002],[1072,1028],[1062,1035],[1228,1041],[1311,1032],[1297,1044],[1267,1054],[1301,1063],[1295,1072],[1116,1115],[1042,1042],[1359,550],[1030,1350],[1199,1160],[1020,1083],[625,1145],[640,1145],[645,1160],[650,1170],[660,1170],[670,1165],[675,1185],[665,1195],[650,1180],[640,1185],[630,1195],[675,1150],[685,1165],[695,1170],[700,1180],[695,1195],[690,1210],[670,1215],[660,1215],[610,1175],[615,1185],[730,1105],[740,1100],[735,1120],[725,1125],[750,1130],[765,1125],[770,1130],[790,1110],[785,1145],[790,1160],[780,1180],[770,1175],[760,1170],[745,1175],[735,1200],[745,1205],[755,1185],[850,1100],[860,1105],[875,1125],[885,1125],[900,1130],[890,1140],[850,1135],[845,1120],[905,1010],[920,1012],[930,1015],[925,1030],[720,1140],[700,1150]];
const label9 = [[483,208],[382,283],[395,310],[528,380],[528,403],[537,398],[751,462],[573,499],[392,448],[411,534],[490,425],[450,438],[487,433],[472,443],[498,445],[432,450],[447,453],[462,450],[425,463],[440,463],[455,463],[470,457],[496,462],[482,468],[398,470],[420,477],[432,473],[468,475],[490,472],[503,478],[527,470],[517,475],[450,483],[395,485],[405,493],[453,493],[467,495],[500,488],[512,492],[475,498],[445,495],[418,497],[387,502],[403,503],[410,507],[427,508],[473,505],[517,503],[527,508],[503,518],[498,512],[517,520],[525,518],[510,510],[958,116],[1065,132],[844,145],[854,147],[770,235],[767,254],[1134,247],[1188,255],[820,273],[844,270],[873,277],[865,287],[896,279],[916,271],[839,282],[772,290],[787,288],[801,288],[767,297],[781,295],[814,297],[839,292],[824,302],[842,303],[860,307],[876,304],[849,308],[896,300],[906,290],[924,285],[935,287],[955,290],[926,302],[940,312],[976,282],[994,285],[1014,295],[1024,302],[973,302],[987,303],[1001,311],[971,313],[967,332],[983,317],[746,315],[686,320],[692,327],[699,333],[693,339],[719,328],[719,338],[706,353],[744,333],[735,355],[767,317],[776,317],[783,328],[789,317],[803,312],[764,333],[819,322],[786,347],[824,339],[838,328],[846,337],[860,326],[872,325],[874,338],[892,338],[910,320],[917,333],[921,345],[949,336],[753,350],[746,363],[733,370],[724,385],[731,393],[755,367],[771,367],[781,373],[806,357],[801,367],[824,357],[821,372],[831,353],[853,348],[842,357],[840,380],[869,363],[867,387],[906,368],[915,365],[919,379],[968,372],[976,355],[756,380],[760,393],[751,407],[767,387],[767,403],[781,390],[801,386],[785,402],[821,393],[828,398],[835,407],[799,407],[749,420],[740,428],[756,425],[769,423],[790,413],[814,415],[826,423],[749,437],[760,440],[798,436],[833,441],[771,453],[783,450],[751,462],[794,462],[810,465],[799,483],[819,488],[814,473],[860,409],[878,409],[899,395],[914,395],[900,413],[912,417],[935,404],[949,402],[965,398],[967,413],[967,423],[946,430],[928,435],[956,440],[971,442],[955,450],[906,370],[953,377],[944,390],[994,408],[989,433],[1005,436],[1030,417],[1035,433],[1053,442],[990,458],[980,465],[1012,458],[1019,460],[1008,484],[991,343],[1015,323],[1003,332],[1028,330],[1017,340],[1039,310],[1062,307],[1083,300],[1053,315],[1044,333],[1056,343],[1039,350],[1024,347],[1012,353],[996,360],[1017,360],[1067,333],[1083,318],[1081,337],[1074,347],[1096,350],[1105,342],[1053,362],[1033,367],[1078,367],[999,372],[996,387],[1017,377],[1039,377],[1044,385],[1064,380],[1051,395],[1040,402],[1021,397],[1083,409],[1097,287],[1121,270],[1139,268],[1149,258],[1162,262],[1153,270],[1165,270],[1121,285],[1112,287],[1167,285],[1144,297],[1124,298],[1103,303],[1160,305],[1178,297],[1194,283],[1174,313],[1189,322],[1114,310],[1092,313],[1139,320],[1103,323],[1117,325],[1171,328],[1160,327],[1153,335],[1139,333],[1124,340],[1105,343],[1124,350],[1139,345],[1098,352],[486,688],[707,693],[167,852],[1157,945],[1263,1078],[1133,1085],[1059,1102],[1616,822],[1658,957],[426,592],[675,577],[711,562],[690,619],[1016,1166],[1178,1218],[745,375],[755,390],[745,395],[740,410],[750,430],[760,415],[765,440],[775,445],[735,405],[775,405],[745,445],[730,400],[785,420],[795,450],[750,370],[765,375],[775,385],[1060,320],[1070,325],[1055,330],[1070,345],[1055,355],[1085,350],[1090,330],[1070,310],[1050,345],[1045,365],[1030,340],[1040,340],[1030,355],[1010,345],[1005,365],[1025,375],[1010,385],[1025,365],[1000,350],[1050,375],[1125,280],[1135,285],[1110,295],[1130,305],[1150,300],[1145,280],[1115,330],[1125,320],[1135,330],[1105,330],[1150,320],[1165,295],[950,415],[960,420],[950,430],[965,430],[955,415],[960,405],[975,445],[445,470],[455,475],[465,470],[440,480],[445,450],[460,440],[505,510],[515,515],[990,345],[1000,320]];

const seriesData = [label0, label1, label2, label3, label4, label5, label6, label7, label8, label9];
const seriesNames = ['label "0"', 'label "1"', 'label "2"', 'label "3"', 'label "4"', 'label "5"', 'label "6"', 'label "7"', 'label "8"', 'label "9"'];
const seriesColors = ['#0000ff', '#ff0000', '#ffa500', '#008000', '#800080', '#ffff00', '#ffc0cb', '#8ab4ff', '#ffd083', '#2ea99f'];

// legend box, drawn by hand so it can sit inside the frame like the reference
const cornerLegend = {
	id: 'cornerLegend',
	afterDraw(chart) {
		const c = chart.ctx;
		c.save();
		c.beginPath();
		c.roundRect(1714.5, 39.5, 166, 312, 4);
		c.fillStyle = '#fff';
		c.fill();
		c.lineWidth = 2.5;
		c.strokeStyle = '#d5d5d5';
		c.stroke();
		c.font = '21px "DejaVu Sans"';
		c.textBaseline = 'middle';
		seriesNames.forEach((name, i) => {
			const y = 59.3 + i * 30.4;
			c.beginPath();
			c.arc(1744.3, y, 8.5, 0, Math.PI * 2);
			c.fillStyle = seriesColors[i];
			c.fill();
			c.fillStyle = '#000';
			c.fillText(name, 1782.5, y);
		});
		c.restore();
	}
};

// plain black frame round the plot area
const frameBox = {
	id: 'frameBox',
	afterDatasetsDraw(chart) {
		const a = chart.chartArea;
		const c = chart.ctx;
		c.save();
		c.lineWidth = 3;
		c.strokeStyle = '#000';
		c.strokeRect(a.left, a.top, a.right - a.left, a.bottom - a.top);
		c.restore();
	}
};

document.addEventListener('DOMContentLoaded', function () {
	const ctx = document.getElementById('myChart').getContext('2d');

	new Chart(ctx, {
		type: 'scatter',
		data: {
			datasets: seriesData.map((points, i) => ({
				label: seriesNames[i],
				data: points,
				order: seriesData.length - i,
				backgroundColor: seriesColors[i],
				borderWidth: 0,
				pointRadius: 9,
				pointHoverRadius: 9
			}))
		},
		options: {
			responsive: false,
			animation: false,
			layout: { padding: { left: 31, top: 30.5, right: 28, bottom: 30 } },
			scales: {
				x: { type: 'linear', min: 31, max: 1891, display: false },
				y: { type: 'linear', min: 30.5, max: 1416, reverse: true, display: false }
			},
			plugins: {
				legend: { display: false },
				tooltip: { enabled: false }
			}
		},
		plugins: [frameBox, cornerLegend]
	});
});
</script>
</body>
</html>
